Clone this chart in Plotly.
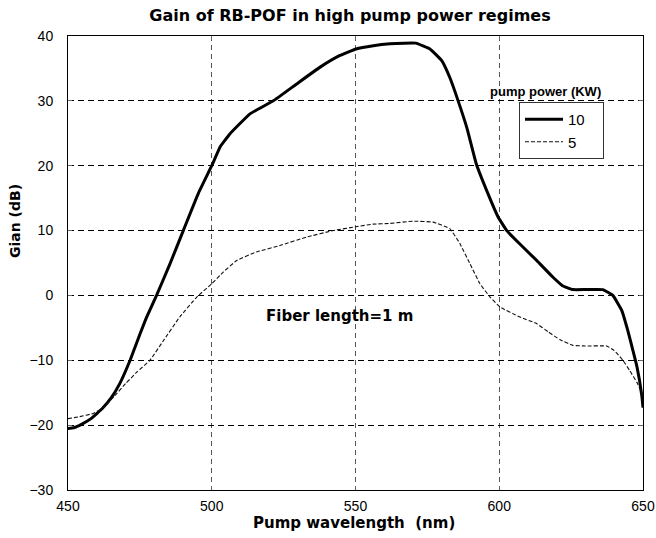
import plotly.graph_objects as go

# 10 KW curve
wl_10 = [450, 452, 455, 458, 462, 465, 468, 471.6, 475, 477.4, 480.8, 485.5, 490.1, 495.3, 500, 502.9,
         506.3, 513.3, 521.4, 529.5, 537.7, 544.6, 550.2, 556.2, 562, 567, 571, 575.9, 580, 582.8,
         585.7, 588.7, 592, 595.6, 599.6, 602.6, 607, 613, 618.7, 622, 625.6, 630, 636, 639.5,
         642.6, 644.7, 646.5, 647.9, 649.6, 650]
gain_10 = [-20.5, -20.4, -19.8, -19.0, -17.4, -15.8, -13.6, -10, -6.0, -3.3, 0, 4.9, 10, 15.7, 20, 22.9,
           24.9, 28, 30, 32.6, 35.2, 37, 38, 38.5, 38.8, 38.9, 38.9, 38.0, 36.2, 33.6,
           30, 25.9, 20.3, 16.2, 12.1, 10, 8, 5.4, 2.8, 1.5, 0.9, 0.9, 0.9, 0.0,
           -2.3, -5.4, -8.5, -11, -15.5, -17.3]

# 5 KW curve
wl_5 = [450, 454, 458.7, 462, 466, 470, 474, 478.5, 483, 488.9, 494.8, 500, 504, 508.7, 515.6, 523.7,
        533, 542.3, 550.2, 556.2, 562, 570, 577, 582.8, 586.3, 589.8, 593.3, 596.8, 600.3, 607,
        612.8, 617, 621, 625.6, 630, 637.4, 640, 643, 645.4, 648, 650]
gain_5 = [-19, -18.7, -18.2, -17.4, -15.6, -13.6, -11.8, -10, -7.1, -3.3, -0.25, 1.8, 3.6, 5.4, 6.7, 7.7,
          9, 10, 10.6, 11, 11.1, 11.45, 11.3, 10.3, 8.0, 4.9, 1.8, -0.25, -1.8, -3.3,
          -4.3, -5.6, -6.8, -7.7, -7.8, -7.8, -8.5, -10, -11.6, -13.5, -15.5]

x_ticks = [450, 500, 550, 600, 650]
y_ticks = [-30, -20, -10, 0, 10, 20, 30, 40]
series_names = ["10", "5"]

SANS = "Liberation Sans, Arial, sans-serif"
WIDE = "DejaVu Sans, Verdana, sans-serif"
font_tick = dict(family=SANS, size=14, color="black")
PAD = "\u00a0\u00a0\u00a0"

fig = go.Figure()
fig.add_trace(go.Scatter(x=wl_10, y=gain_10, mode="lines", name=series_names[0] + PAD,
                         line=dict(color="black", width=3, shape="spline", smoothing=0.3)))
fig.add_trace(go.Scatter(x=wl_5, y=gain_5, mode="lines", name=series_names[1] + PAD,
                         line=dict(color="#111", width=1.1, dash="4px,2px", shape="spline", smoothing=0.3)))

axis_common = dict(showline=True, linecolor="black", linewidth=1, mirror="ticks",
                   ticks="inside", ticklen=4, tickcolor="#666",
                   showgrid=True, gridwidth=1, automargin=False,
                   zeroline=False, tickfont=font_tick)

fig.update_layout(
    width=656, height=538,
    margin=dict(l=68, r=13, t=36, b=48),
    paper_bgcolor="white", plot_bgcolor="white",
    title=dict(text="<b>Gain of RB-POF in high pump power regimes</b>",
               x=350 / 656, xanchor="center", y=1 - 15 / 538, yanchor="middle",
               font=dict(family=WIDE, size=16, color="black")),
    xaxis=dict(range=[450, 650], tickvals=x_ticks, gridcolor="#555", griddash="5px,4px",
               ticklabelstandoff=3, **axis_common),
    yaxis=dict(range=[-30, 40], tickvals=y_ticks, gridcolor="black", griddash="6px,4px",
               ticklabelstandoff=11, **axis_common),
    legend=dict(x=(519 - 68) / 575, y=(490 - 102) / 454, xanchor="left", yanchor="top",
                bgcolor="white", bordercolor="#333", borderwidth=1,
                font=dict(family=SANS, size=15, color="black"),
                tracegroupgap=0, itemwidth=38),
    showlegend=True,
)

fig.add_annotation(x=(545 - 68) / 575, y=(490 - 92) / 454, xref="paper", yref="paper",
                   xanchor="center", yanchor="middle",
                   text="<b>pump power (KW)</b>", showarrow=False,
                   font=dict(family=SANS, size=13, color="black"))
fig.add_annotation(x=544.3, y=-3.1, xref="x", yref="y", text="<b>Fiber length=1 m</b>",
                   xanchor="center", yanchor="middle",
                   showarrow=False, font=dict(family=WIDE, size=15, color="black"))
fig.add_annotation(x=(353.5 - 68) / 575, y=(490 - 523) / 454, xref="paper", yref="paper",
                   xanchor="center", yanchor="middle", text="<b>Pump wavelength  (nm)</b>",
                   showarrow=False, font=dict(family=WIDE, size=15, color="black"))
fig.add_annotation(x=(15 - 68) / 575, y=(490 - 221) / 454, xref="paper", yref="paper",
                   xanchor="center", yanchor="middle", textangle=-90,
                   text="<b>Gian (dB)</b>", showarrow=False,
                   font=dict(family=WIDE, size=14, color="black"))

fig.write_html("out.html")
